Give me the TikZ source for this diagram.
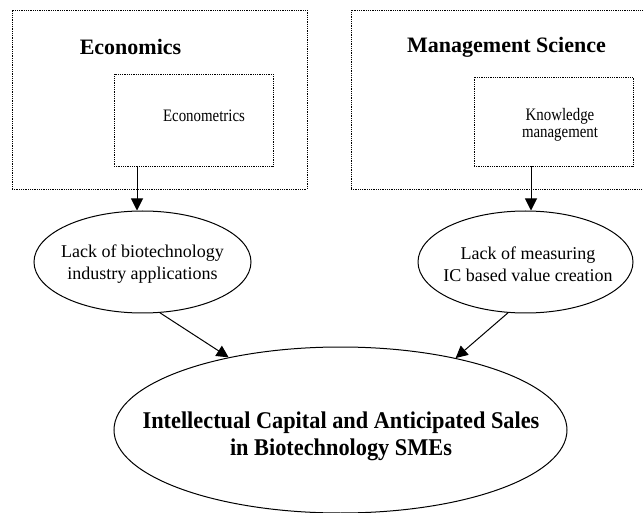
\documentclass[tikz,border=0pt]{standalone}
\usepackage{fontspec}
\setmainfont{Liberation Serif}
\newfontfamily\condfont[FakeStretch=0.85]{Liberation Serif}
\newfontfamily\titlefont[FakeStretch=0.93]{Liberation Serif}
\usetikzlibrary{shapes.geometric,arrows.meta}
\tikzset{
  dotbox/.style={draw, rectangle, line width=0.9pt, dash pattern=on 0.9pt off 0.9pt, inner sep=0pt},
  oval/.style={draw, ellipse, line width=1pt, inner sep=0pt},
  arr/.style={line width=1pt, -{Triangle[length=12pt,width=12pt]}},
  headtxt/.style={font=\fontsize{22}{26}\selectfont\bfseries, anchor=base, inner sep=0pt},
  subtxt/.style={font=\condfont\fontsize{17.5}{17}\selectfont, align=center, inner sep=0pt},
  ovaltxt/.style={font=\fontsize{18}{22}\selectfont, align=center, inner sep=0pt},
  bigtxt/.style={font=\titlefont\fontsize{24}{27}\selectfont\bfseries, align=center, inner sep=0pt}
}
\begin{document}
\begin{tikzpicture}[x=1pt,y=-1pt]
\useasboundingbox (0,0) rectangle (643,513);
\clip (0,0) rectangle (643,513);
% boxes
\node[dotbox, minimum width=295pt, minimum height=179pt] (econ) at (159.5,99.5) {};
\node[dotbox, minimum width=159pt, minimum height=92pt] (emb) at (193.5,120) {};
\node[dotbox, minimum width=301pt, minimum height=179pt] (mgmt) at (501.5,99.5) {};
\node[dotbox, minimum width=159pt, minimum height=89pt] (kmb) at (553.5,121.5) {};
% box texts
\node[headtxt] (econt) at (130.5,55) {Economics};
\node[font=\condfont\fontsize{17.5}{15}\selectfont, anchor=base, inner sep=0pt] (emt) at (204,122) {Econometrics};
\node[headtxt] (mgmtt) at (506.5,53) {Management Science};
\node[subtxt] (kmt) at (560,125) {Knowledge\\management};
% ellipses
\node[oval, minimum width=217pt, minimum height=102pt] (lell) at (142.5,262) {};
\node[oval, minimum width=215pt, minimum height=102pt] (rell) at (525.5,262) {};
\node[oval, minimum width=453pt, minimum height=166pt] (bell) at (340.5,430) {};
\node[ovaltxt] (lellt) at (142.5,264) {Lack of biotechnology\\industry applications};
\node[ovaltxt] (rellt) at (528,264) {Lack of measuring\\IC based value creation};
\node[bigtxt] (bellt) at (341,436) {Intellectual Capital and Anticipated Sales\\in Biotechnology SMEs};
% arrows
\coordinate (a1) at (137,0);
\coordinate (a2) at (531,0);
\draw[arr] (emb.south -| a1) -- (a1 |- lell.north);
\draw[arr] (kmb.south -| a2) -- (a2 |- rell.north);
\draw[arr] (lell.-71) -- (bell.147.5);
\draw[arr] (rell.-109) -- (bell.32.7);
\end{tikzpicture}
\end{document}
